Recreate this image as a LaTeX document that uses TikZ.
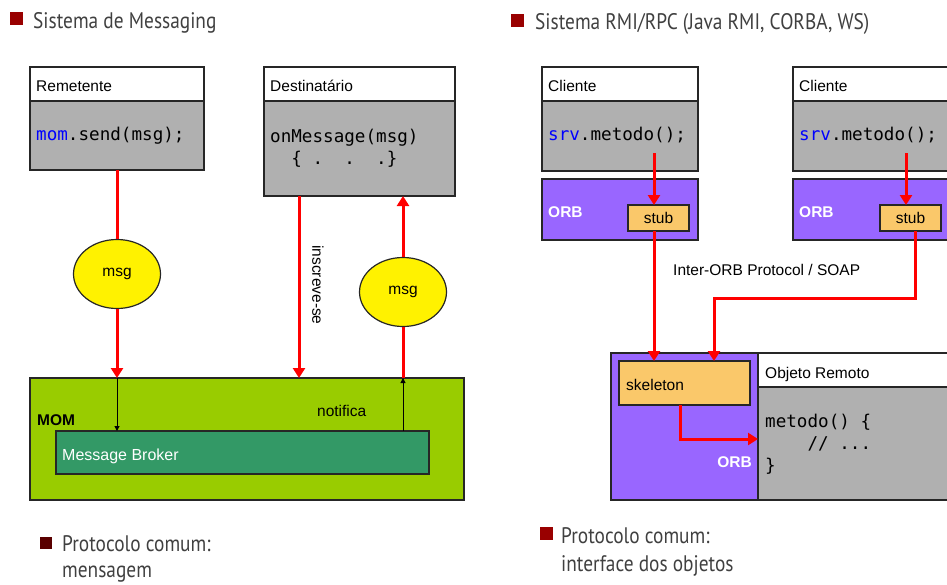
\documentclass[tikz,border=0pt]{standalone}
\usepackage{fontspec}
\setmainfont{Liberation Sans}
\setmonofont{DejaVu Sans Mono}
\newfontfamily\titlefont[FakeStretch=0.86]{PT Sans}
\usetikzlibrary{arrows.meta,shapes.geometric,calc}
\definecolor{codegray}{HTML}{B0B0B0}
\definecolor{momgreen}{HTML}{99CC00}
\definecolor{brokergreen}{HTML}{339966}
\definecolor{orbpurple}{HTML}{9966FF}
\definecolor{stuborange}{HTML}{FAC86A}
\definecolor{bulletred}{HTML}{990000}
\definecolor{bulletdark}{HTML}{5A0000}
\definecolor{titlegray}{HTML}{404040}
\definecolor{kwblue}{HTML}{0000FF}
\newcommand{\msp}{\phantom{x}}
\begin{document}
\begin{tikzpicture}[x=1pt,y=-1pt,
  rect/.style={draw=black!85, line width=1.5pt, anchor=north west, inner sep=0pt, outer sep=0pt},
  hdr/.style={rect, fill=white},
  body/.style={rect, fill=codegray},
  orb/.style={rect, fill=orbpurple},
  stubbox/.style={rect, fill=stuborange},
  lbl/.style={font=\fontsize{15.5}{18}\selectfont, inner sep=0pt},
  wlbl/.style={lbl, text=white, font=\fontsize{15.5}{18}\selectfont\bfseries},
  code/.style={font=\fontsize{17.6}{22}\selectfont\ttfamily, inner sep=0pt, align=left},
  ttl/.style={font=\titlefont\fontsize{22.5}{28}\selectfont, text=titlegray, inner sep=0pt, align=left},
  bullet/.style={fill=bulletred, minimum size=13pt, inner sep=0pt, anchor=north west},
  msgell/.style={ellipse, draw=black!85, line width=1.2pt, fill=yellow, minimum width=87pt, minimum height=69pt, inner sep=0pt, font=\fontsize{15.5}{18}\selectfont},
  redline/.style={red, line width=3pt},
  redarrow/.style={redline, -{Triangle[width=12pt,length=10pt]}},
  thinarrow/.style={black, line width=1pt, -{Triangle[width=5pt,length=5pt]}}
]
\useasboundingbox (0,0) rectangle (947,584);

% ===== Left: Messaging =====
\node[bullet] (bl1) at (10,12) {};
\node[ttl, anchor=base west] (tl1) at (33,28) {Sistema de Messaging};

\node[hdr, minimum width=174pt, minimum height=34pt] (remh) at (30,67) {};
\node[body, minimum width=174pt, minimum height=69pt] (remb) at (30,101) {};
\node[lbl, anchor=base west] (remt) at (36,91) {Remetente};
\node[code, anchor=base west] (remc) at (36,140) {\textcolor{kwblue}{mom}.send(msg);};

\node[hdr, minimum width=191pt, minimum height=34pt] (desh) at (264,67) {};
\node[body, minimum width=191pt, minimum height=95pt] (desb) at (264,101) {};
\node[lbl, anchor=base west] (dest) at (270,91) {Destinatário};
\node[code, anchor=base west] (desc1) at (270,142) {onMessage(msg)};
\node[code, anchor=base west] (desc2) at (270,164) {\msp\msp\{\msp.\msp\msp.\msp\msp.\}};

\node[rect, fill=momgreen, minimum width=434pt, minimum height=122pt] (mom) at (30,378) {};
\node[rect, fill=brokergreen, minimum width=373pt, minimum height=43pt] (broker) at (56,431) {};
\node[lbl, font=\fontsize{15.5}{18}\selectfont\bfseries, anchor=base west] (momt) at (37,425) {MOM};
\node[lbl, text=white, font=\fontsize{16}{18}\selectfont, anchor=base west] (brokt) at (62,460) {Message Broker};
\node[lbl, anchor=base west] (notif) at (317,416) {notifica};

\node[msgell] (msg1) at (117,274) {msg};
\node[msgell] (msg2) at (403,292) {msg};
\node[lbl, rotate=-90] (insc) at (318,285) {inscreve-se};
\coordinate (ix) at (299,0);

\draw[redline] (msg1 |- remb.south) -- (msg1.north);
\draw[redarrow] (msg1.south) -- (msg1.south |- mom.north);
\draw[redarrow] (ix |- desb.south) -- (ix |- mom.north);
\draw[redline] (msg2.south |- mom.north) -- (msg2.south);
\draw[redarrow] (msg2.north) -- (msg2.north |- desb.south);
\draw[thinarrow] (msg1 |- mom.north) -- (msg1 |- broker.north);
\draw[thinarrow] (msg2 |- broker.north) -- (msg2 |- mom.north);

\node[bullet, fill=bulletdark, minimum size=12pt] (bl2) at (40,537) {};
\node[ttl, anchor=base west] (pl1) at (62,551) {Protocolo comum:};
\node[ttl, anchor=base west] (pl2) at (62,577) {mensagem};

% ===== Right: RMI/RPC =====
\node[bullet] (br1) at (511,14) {};
\node[ttl, anchor=base west] (tr1) at (535,29) {Sistema RMI/RPC (Java RMI, CORBA, WS)};

\node[hdr, minimum width=156pt, minimum height=34pt] (c1h) at (542,67) {};
\node[body, minimum width=156pt, minimum height=70pt] (c1b) at (542,101) {};
\node[lbl, anchor=base west] (c1t) at (548,91) {Cliente};
\node[code, anchor=base west] (c1c) at (548,140) {\textcolor{kwblue}{srv}.metodo();};
\node[orb, minimum width=156pt, minimum height=61pt] (orb1) at (542,179) {};
\node[wlbl, anchor=base west] (orb1t) at (548,217) {ORB};
\node[stubbox, minimum width=61pt, minimum height=26pt] (stub1) at (628,205) {};
\node[lbl] (stub1t) at (stub1.center) {stub};

\node[hdr, minimum width=170pt, minimum height=34pt] (c2h) at (793,67) {};
\node[body, minimum width=170pt, minimum height=70pt] (c2b) at (793,101) {};
\node[lbl, anchor=base west] (c2t) at (799,91) {Cliente};
\node[code, anchor=base west] (c2c) at (799,140) {\textcolor{kwblue}{srv}.metodo();};
\node[orb, minimum width=170pt, minimum height=61pt] (orb2) at (793,179) {};
\node[wlbl, anchor=base west] (orb2t) at (799,217) {ORB};
\node[stubbox, minimum width=61pt, minimum height=26pt] (stub2) at (880,205) {};
\node[lbl] (stub2t) at (stub2.center) {stub};

\node[lbl, anchor=base west] (iop) at (673,275) {Inter-ORB Protocol / SOAP};

\node[orb, minimum width=147pt, minimum height=147pt] (orb3) at (611,353) {};
\node[stubbox, minimum width=131pt, minimum height=44pt] (skel) at (619,361) {};
\node[lbl, anchor=base west] (skelt) at (626,390) {skeleton};
\node[wlbl, anchor=base east] (orb3t) at (752,467) {ORB};
\node[hdr, minimum width=205pt, minimum height=34pt] (objh) at (758,353) {};
\node[body, minimum width=205pt, minimum height=113pt] (objb) at (758,387) {};
\node[lbl, anchor=base west] (objt) at (765,378) {Objeto Remoto};
\node[code, anchor=base west] (objc1) at (765,427) {metodo() \{};
\node[code, anchor=base west] (objc2) at (765,449) {\msp\msp\msp\msp//\msp...};
\node[code, anchor=base west] (objc3) at (765,471) {\}};

\coordinate (a1) at (654,153);
\coordinate (a2) at (906,153);
\coordinate (j2) at (714,298);
\coordinate (j3) at (680,439);
\draw[redarrow] (a1) -- (a1 |- stub1.north);
\draw[redarrow] (a2) -- (a2 |- stub2.north);
\draw[redarrow] (a1 |- stub1.south) -- (a1 |- skel.north);
\draw[redarrow] (stub2.south -| 915,0) |- (j2) -- (j2 |- skel.north);
\draw[redarrow] (j3 |- skel.south) -- (j3) -- (j3 -| objb.west);

\node[bullet] (br2) at (540,527) {};
\node[ttl, anchor=base west] (pr1) at (561,543) {Protocolo comum:};
\node[ttl, anchor=base west] (pr2) at (561,571) {interface dos objetos};
\end{tikzpicture}
\end{document}
